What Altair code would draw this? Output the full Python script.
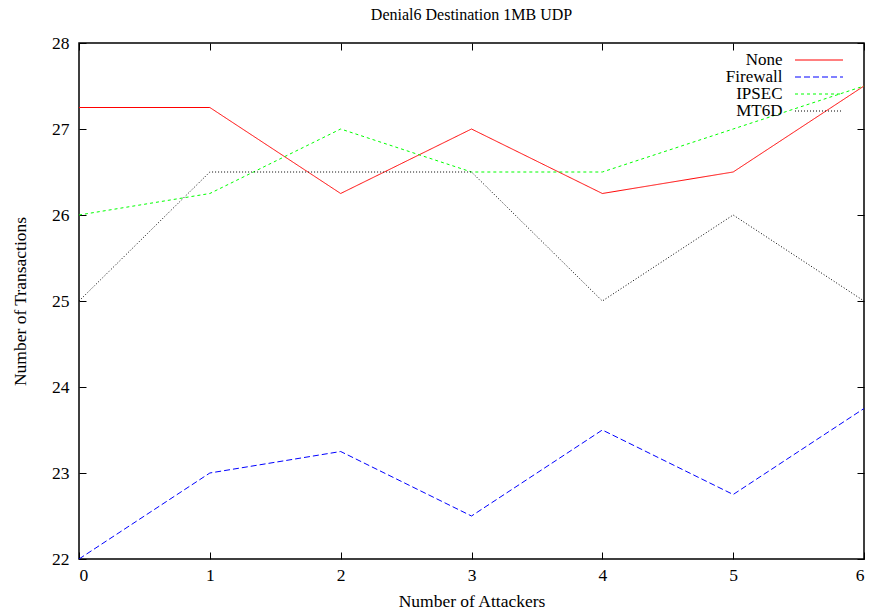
import altair as alt
import pandas as pd

# Transactions completed per number of attackers, one series per defence
attackers = [0, 1, 2, 3, 4, 5, 6]
series_names = ["None", "Firewall", "IPSEC", "MT6D"]
none_vals = [27.25, 27.25, 26.25, 27.0, 26.25, 26.5, 27.5]
firewall_vals = [22.0, 23.0, 23.25, 22.5, 23.5, 22.75, 23.75]
ipsec_vals = [26.0, 26.25, 27.0, 26.5, 26.5, 27.0, 27.5]
mt6d_vals = [25.0, 26.5, 26.5, 26.5, 25.0, 26.0, 25.0]

x_ticks = [0, 1, 2, 3, 4, 5, 6]
y_ticks = [22, 23, 24, 25, 26, 27, 28]

line_colors = ["#ff0000", "#0000ff", "#00ff00", "#000000"]
line_dashes = [[1, 0], [6, 3], [3, 3], [1, 2]]

rows = []
for name, vals in zip(series_names, [none_vals, firewall_vals, ipsec_vals, mt6d_vals]):
    for a, v in zip(attackers, vals):
        rows.append({"attackers": a, "transactions": v, "series": name})
df = pd.DataFrame(rows)
key_df = pd.DataFrame({"series": series_names})

FONT = "Liberation Serif"
x_scale = alt.Scale(domain=[0, 6], nice=False, zero=False)
y_scale = alt.Scale(domain=[22, 28], nice=False, zero=False)
color_enc = alt.Color("series:N", scale=alt.Scale(domain=series_names, range=line_colors),
                      legend=None)
dash_enc = alt.StrokeDash("series:N", scale=alt.Scale(domain=series_names, range=line_dashes),
                          legend=None)

base = alt.Chart(df)

# the plotted series, with labelled bottom/left axes
lines = base.mark_line(strokeWidth=1, clip=True).encode(
    x=alt.X("attackers:Q", scale=x_scale,
            axis=alt.Axis(values=x_ticks, format="d", ticks=False, domain=False, grid=False,
                          labelPadding=7, title="Number of Attackers", titlePadding=9)),
    y=alt.Y("transactions:Q", scale=y_scale,
            axis=alt.Axis(values=y_ticks, format="d", ticks=False, domain=False, grid=False,
                          labelPadding=10, title="Number of Transactions", titlePadding=22)),
    color=color_enc,
    strokeDash=dash_enc,
)

def tick_axis(orient):
    return alt.Axis(orient=orient, values=x_ticks if orient in ("top", "bottom") else y_ticks,
                    offset=-7, tickSize=7, tickColor="black", tickWidth=1,
                    labels=False, domain=False, grid=False, title=None)

# inward tick marks on all four sides of the frame
ticks_bl = base.mark_point(opacity=0).encode(
    x=alt.X("attackers:Q", scale=x_scale, axis=tick_axis("bottom")),
    y=alt.Y("transactions:Q", scale=y_scale, axis=tick_axis("left")),
)
ticks_tr = base.mark_point(opacity=0).encode(
    x=alt.X("attackers:Q", scale=x_scale, axis=tick_axis("top")),
    y=alt.Y("transactions:Q", scale=y_scale, axis=tick_axis("right")),
)

# key in the top-right corner: name on the left, line sample on the right
key_rows = alt.Y("series:N", sort=series_names, axis=None,
                 scale=alt.Scale(type="point", domain=series_names, range=[17, 68], padding=0))
key_base = alt.Chart(key_df)
key_text = key_base.mark_text(align="right", baseline="middle", font=FONT,
                              fontSize=17, color="black").encode(
    x=alt.value(703.5), y=key_rows, text="series:N"
)
key_lines = key_base.mark_rule(strokeWidth=1).encode(
    x=alt.value(716), x2=alt.value(764), y=key_rows, color=color_enc, strokeDash=dash_enc
)

chart = alt.layer(lines, ticks_bl, ticks_tr, key_text, key_lines).resolve_axis(
    x="independent", y="independent"
).resolve_scale(
    y="independent"
).properties(
    width=785,
    height=516,
    autosize=alt.AutoSizeParams(type="none"),
    padding={"left": 79, "top": 43, "right": 9, "bottom": 56},
    title=alt.Title("Denial6 Destination 1MB UDP", font=FONT, fontSize=16,
                    fontWeight="normal", color="black", offset=11, anchor="middle"),
).configure_view(
    stroke="black", strokeWidth=1.5
).configure_axis(
    labelFont=FONT, labelFontSize=17.5, labelColor="black",
    titleFont=FONT, titleFontSize=17.5, titleFontWeight="normal", titleColor="black",
)

chart.save("out.html", embed_options={"renderer": "svg", "actions": False})
